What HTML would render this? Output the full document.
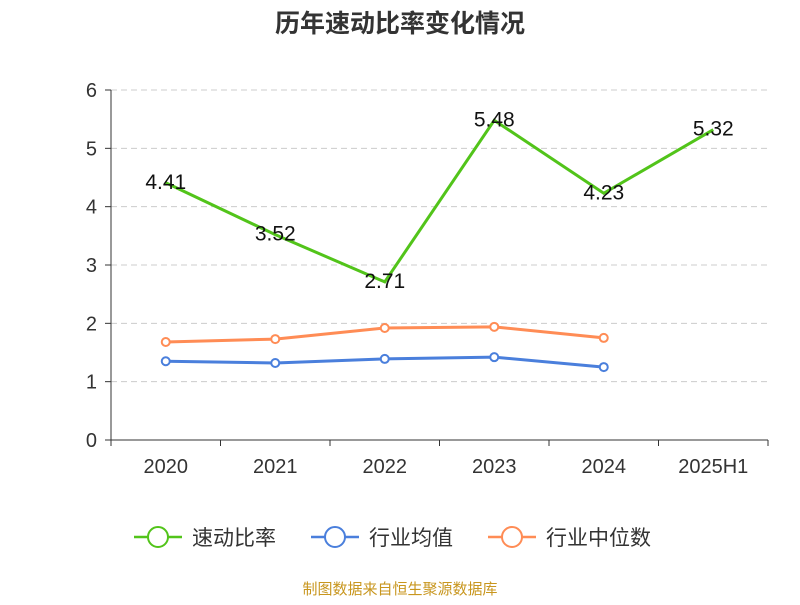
<!DOCTYPE html>
<html><head><meta charset="utf-8"><style>
body{margin:0;background:#fff;font-family:"Liberation Sans","Noto Sans CJK SC",sans-serif;}
svg text{font-family:"Liberation Sans","Noto Sans CJK SC",sans-serif;}
</style></head><body>
<svg id="chart" width="800" height="600">
<text x="400" y="32" text-anchor="middle" font-size="25" font-weight="bold" fill="#333">历年速动比率变化情况</text>
<g id="grid"></g><g id="axes"></g><g id="series"></g>
<g>
<g><line x1="134" y1="537" x2="182" y2="537" stroke="#52c41a" stroke-width="2.5"/><circle cx="158" cy="537" r="10" fill="#fff" stroke="#52c41a" stroke-width="2"/><text x="192" y="545" font-size="21" fill="#333">速动比率</text></g>
<g><line x1="311" y1="537" x2="359" y2="537" stroke="#4a7fdc" stroke-width="2.5"/><circle cx="335" cy="537" r="10" fill="#fff" stroke="#4a7fdc" stroke-width="2"/><text x="369" y="545" font-size="21" fill="#333">行业均值</text></g>
<g><line x1="488" y1="537" x2="536" y2="537" stroke="#ff8c55" stroke-width="2.5"/><circle cx="512" cy="537" r="10" fill="#fff" stroke="#ff8c55" stroke-width="2"/><text x="546" y="545" font-size="21" fill="#333">行业中位数</text></g>
</g>
<text x="400" y="594" text-anchor="middle" font-size="15" fill="#c8961e">制图数据来自恒生聚源数据库</text>
</svg>
<script>
const categories=["2020","2021","2022","2023","2024","2025H1"];
const quickRatio=[4.41,3.52,2.71,5.48,4.23,5.32];
const industryAvg=[1.35,1.32,1.39,1.42,1.25];
const industryMedian=[1.68,1.73,1.92,1.94,1.75];
const yTicks=[0,1,2,3,4,5,6];
const NS="http://www.w3.org/2000/svg";
const L=111,R=768,T=90,B=440,yMax=6;
const bw=(R-L)/categories.length;
const x=i=>L+bw*(i+0.5);
const y=v=>B-(B-T)*v/yMax;
function mk(tag,attrs,parent){const e=document.createElementNS(NS,tag);for(const k in attrs)e.setAttribute(k,attrs[k]);parent.appendChild(e);return e;}
const grid=document.getElementById('grid'),axes=document.getElementById('axes'),series=document.getElementById('series');
yTicks.forEach(t=>{
 if(t>0){const g=mk('line',{x1:L,x2:R,y1:y(t),y2:y(t),stroke:'#ccc','stroke-dasharray':'6,4'},grid);
 
 }
 const tk=mk('line',{x1:L-6,x2:L,y1:y(t),y2:y(t),stroke:'#333'},axes);
 
 
 const lb=mk('text',{x:L-14,y:y(t)+7,'text-anchor':'end','font-size':20,fill:'#333'},axes);lb.textContent=t;
 
 
});
const ya=mk('line',{x1:L,x2:L,y1:T,y2:B,stroke:'#333'},axes);


const xa=mk('line',{x1:L,x2:R,y1:B,y2:B,stroke:'#333'},axes);


for(let i=0;i<=categories.length;i++){const tk=mk('line',{x1:L+bw*i,x2:L+bw*i,y1:B,y2:B+6,stroke:'#333'},axes);
 
 }
categories.forEach((c,i)=>{const lb=mk('text',{x:x(i),y:B+33,'text-anchor':'middle','font-size':20,fill:'#333'},axes);lb.textContent=c;
 
 });
function line(data,color,name,markers){
 const p=mk('polyline',{points:data.map((v,i)=>x(i)+','+y(v)).join(' '),fill:'none',stroke:color,'stroke-width':3},series);
 
 
 if(markers)data.forEach((v,i)=>{const c=mk('circle',{cx:x(i),cy:y(v),r:4,fill:'#fff',stroke:color,'stroke-width':2},series);
  
  });
}
line(industryMedian,'#ff8c55','industry-median',true);
line(industryAvg,'#4a7fdc','industry-avg',true);
line(quickRatio,'#52c41a','quick-ratio',false);
quickRatio.forEach((v,i)=>{const t=mk('text',{x:x(i),y:y(v)+6,'text-anchor':'middle','font-size':21,fill:'#111'},series);t.textContent=v.toFixed(2);
 
 });
</script>
</body></html>
